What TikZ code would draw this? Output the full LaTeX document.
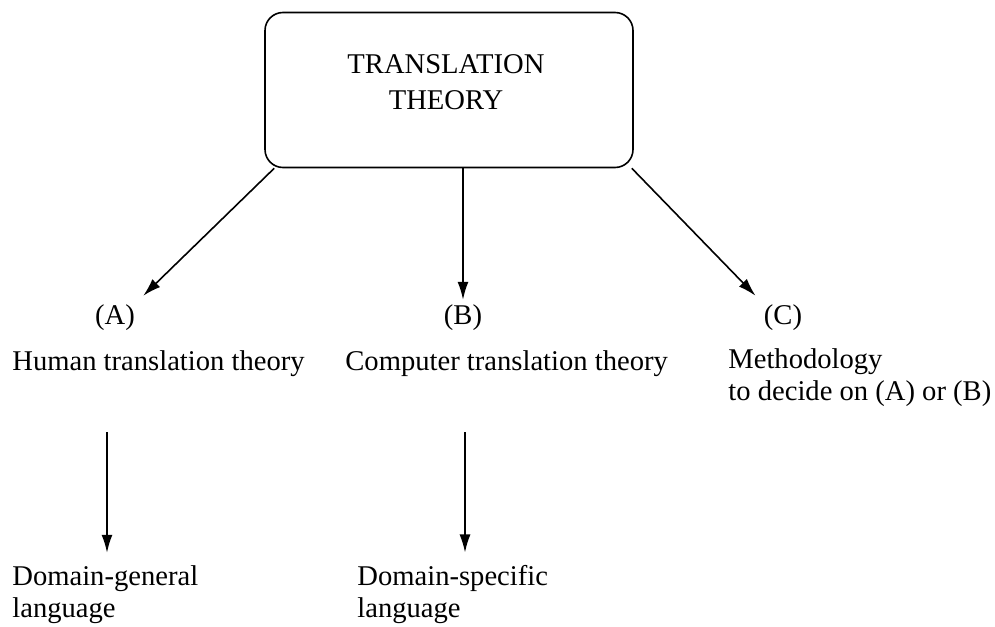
\documentclass[tikz,border=0pt]{standalone}
\usepackage{fontspec}
\setmainfont{Liberation Serif}
\usepackage{tikz}
\usetikzlibrary{arrows.meta, positioning, calc}

\begin{document}
\begin{tikzpicture}[x=0.5pt, y=-0.5pt,
		every node/.style={font=\fontsize{14.3pt}{16pt}\selectfont, inner sep=0pt},
		boxnode/.style={draw, line width=0.8pt, rounded corners=9pt,
			minimum width=184pt, minimum height=77.5pt},
		tag/.style={anchor=base, inner sep=4pt},
		txt/.style={anchor=base west, align=left},
		arr/.style={line width=0.8pt, -{Latex[length=9pt,width=5.5pt]}}]
	\useasboundingbox (0,0) rectangle (995,626);
	% top box
	\node[boxnode] (theory) at (449,90) {};
	\node[align=center, font=\fontsize{14.3pt}{18pt}\selectfont] (title) at (446,82) {TRANSLATION\\THEORY};
	% the three branches
	\node[tag] (lblA) at (115,324) {(A)};
	\node[tag, inner sep=2pt] (lblB) at (463,324) {(B)};
	\node[tag] (lblC) at (783,324) {(C)};
	\node[txt] (human) at (12,370) {Human translation theory};
	\node[txt] (computer) at (345,370) {Computer translation theory};
	\node[txt] (method) at (728,400) {Methodology\\to decide on (A) or (B)};
	\draw[arr] ([xshift=5pt]theory.south west) -- (lblA.north east);
	\draw[arr] (theory.south -| lblB.north) -- (lblB.north);
	\draw[arr] ([xshift=-1pt]theory.south east) -- (lblC.north west);
	% languages
	\node[txt] (genA) at (12,617) {Domain-general\\language};
	\node[txt] (genB) at (357,617) {Domain-specific\\language};
	\coordinate (dA) at (107,432);
	\coordinate (dB) at (465,432);
	\draw[arr, shorten >=6pt] (dA) -- (dA |- genA.north);
	\draw[arr, shorten >=6pt] (dB) -- (dB |- genB.north);
\end{tikzpicture}
\end{document}
